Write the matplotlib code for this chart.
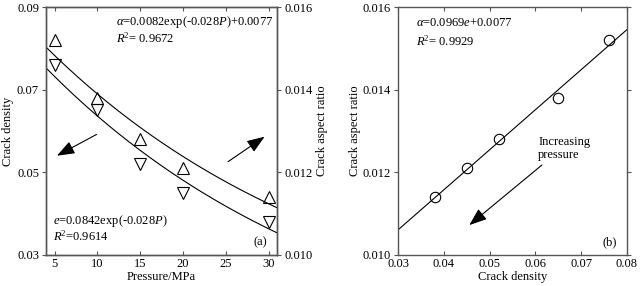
import numpy as np
import matplotlib
matplotlib.use("Agg")
import matplotlib.pyplot as plt

# data
pressure = [5, 10, 15, 20, 30]
crack_density = [0.076, 0.065, 0.052, 0.045, 0.038]
aspect_ratio = [0.0152, 0.0138, 0.0128, 0.0121, 0.0114]

# fit coefficients printed on the chart
alpha_fit = (0.0082, -0.028, 0.0077)   # alpha = a*exp(b*P)+c
e_fit = (0.0842, -0.028)               # e = a*exp(b*P)
lin_fit = (0.0969, 0.0077)             # alpha = k*e + c

plt.rcParams['font.family'] = ['Liberation Serif', 'DejaVu Serif']
plt.rcParams['font.size'] = 9
plt.rcParams['mathtext.fontset'] = 'custom'
plt.rcParams['mathtext.rm'] = 'Liberation Serif'
plt.rcParams['mathtext.it'] = 'Liberation Serif:italic'

SPINE = '#555555'
ARROW = dict(arrowstyle='-|>,head_length=1.2,head_width=0.45', color='black', lw=0.8)

fig = plt.figure(figsize=(6.43, 2.86), dpi=100)
ax1 = fig.add_axes([0.0715, 0.1084, 0.3595, 0.8671])
ax2 = ax1.twinx()
ax3 = fig.add_axes([0.619, 0.1084, 0.356, 0.8671])


def style(ax):
    for s in ax.spines.values():
        s.set_color(SPINE)
        s.set_linewidth(1.0)
    ax.tick_params(colors='black', length=3, width=0.8, color=SPINE, pad=2)


# --- panel (a) ---
P = np.linspace(4, 31, 200)
ax1.plot(P, e_fit[0] * np.exp(e_fit[1] * P), color='black', lw=0.8)
ax1.plot(pressure, crack_density, linestyle='none', marker='v', ms=8.5,
         mfc='none', mec='black', mew=0.8)
ax2.plot(P, alpha_fit[0] * np.exp(alpha_fit[1] * P) + alpha_fit[2], color='black', lw=0.8)
ax2.plot(pressure, aspect_ratio, linestyle='none', marker='^', ms=8.5,
         mfc='none', mec='black', mew=0.8)

ax1.set_xlim(4, 31)
ax1.set_ylim(0.03, 0.09)
ax1.set_xticks([5, 10, 15, 20, 25, 30])
ax1.set_yticks([0.03, 0.05, 0.07, 0.09])
ax1.set_yticklabels(['0.03', '0.05', '0.07', '0.09'])
ax2.set_ylim(0.010, 0.016)
ax2.set_yticks([0.010, 0.012, 0.014, 0.016])
ax2.set_yticklabels(['0.010', '0.012', '0.014', '0.016'])
ax1.set_xlabel('Pressure/MPa', labelpad=1)
ax1.set_ylabel('Crack density', labelpad=2)
ax2.set_ylabel('Crack aspect ratio', labelpad=3)
style(ax1)
style(ax2)
ax1.tick_params(axis='x', top=True, direction='in')

ax1.annotate('', xy=(5.0, 0.0537), xytext=(10.2, 0.0595), arrowprops=ARROW)
ax1.annotate('', xy=(29.8, 0.059), xytext=(25.0, 0.0522), arrowprops=ARROW)

ax1.text(0.305, 0.94, r'$\alpha$=0.0082exp(-0.028$P$)+0.0077',
         transform=ax1.transAxes, va='center', fontsize=9)
ax1.text(0.305, 0.872, r'$R$$^2$= 0.9672', transform=ax1.transAxes, va='center', fontsize=9)
ax1.text(0.03, 0.138, r'$e$=0.0842exp(-0.028$P$)', transform=ax1.transAxes,
         va='center', fontsize=9)
ax1.text(0.03, 0.075, r'$R$$^2$=0.9614', transform=ax1.transAxes, va='center', fontsize=9)
ax1.text(0.955, 0.05, '(a)', transform=ax1.transAxes, ha='right', va='center', fontsize=9)

# --- panel (b) ---
E = np.linspace(0.03, 0.08, 50)
ax3.plot(E, lin_fit[0] * E + lin_fit[1], color='black', lw=0.8)
ax3.plot(crack_density, aspect_ratio, linestyle='none', marker='o', ms=7.5,
         mfc='none', mec='black', mew=0.8)
ax3.set_xlim(0.03, 0.08)
ax3.set_ylim(0.010, 0.016)
ax3.set_xticks([0.03, 0.04, 0.05, 0.06, 0.07, 0.08])
ax3.set_xticklabels(['0.03', '0.04', '0.05', '0.06', '0.07', '0.08'])
ax3.set_yticks([0.010, 0.012, 0.014, 0.016])
ax3.set_yticklabels(['0.010', '0.012', '0.014', '0.016'])
ax3.set_xlabel('Crack density', labelpad=1)
ax3.set_ylabel('Crack aspect ratio', labelpad=1)
style(ax3)
ax3.tick_params(axis='x', direction='in', top=True)
ax3.tick_params(axis='y', direction='out', right=True)

ax3.annotate('', xy=(0.0451, 0.01068), xytext=(0.0619, 0.01222), arrowprops=ARROW)
ax3.text(0.0606, 0.01257, 'Increasing\npressure', ha='left', va='center',
         fontsize=9, linespacing=1.1)
ax3.text(0.08, 0.935, r'$\alpha$=0.0969$e$+0.0077', transform=ax3.transAxes,
         va='center', fontsize=9)
ax3.text(0.08, 0.86, r'$R$$^2$= 0.9929', transform=ax3.transAxes, va='center', fontsize=9)
ax3.text(0.955, 0.05, '(b)', transform=ax3.transAxes, ha='right', va='center', fontsize=9)

fig.savefig('out.png', dpi=100)
